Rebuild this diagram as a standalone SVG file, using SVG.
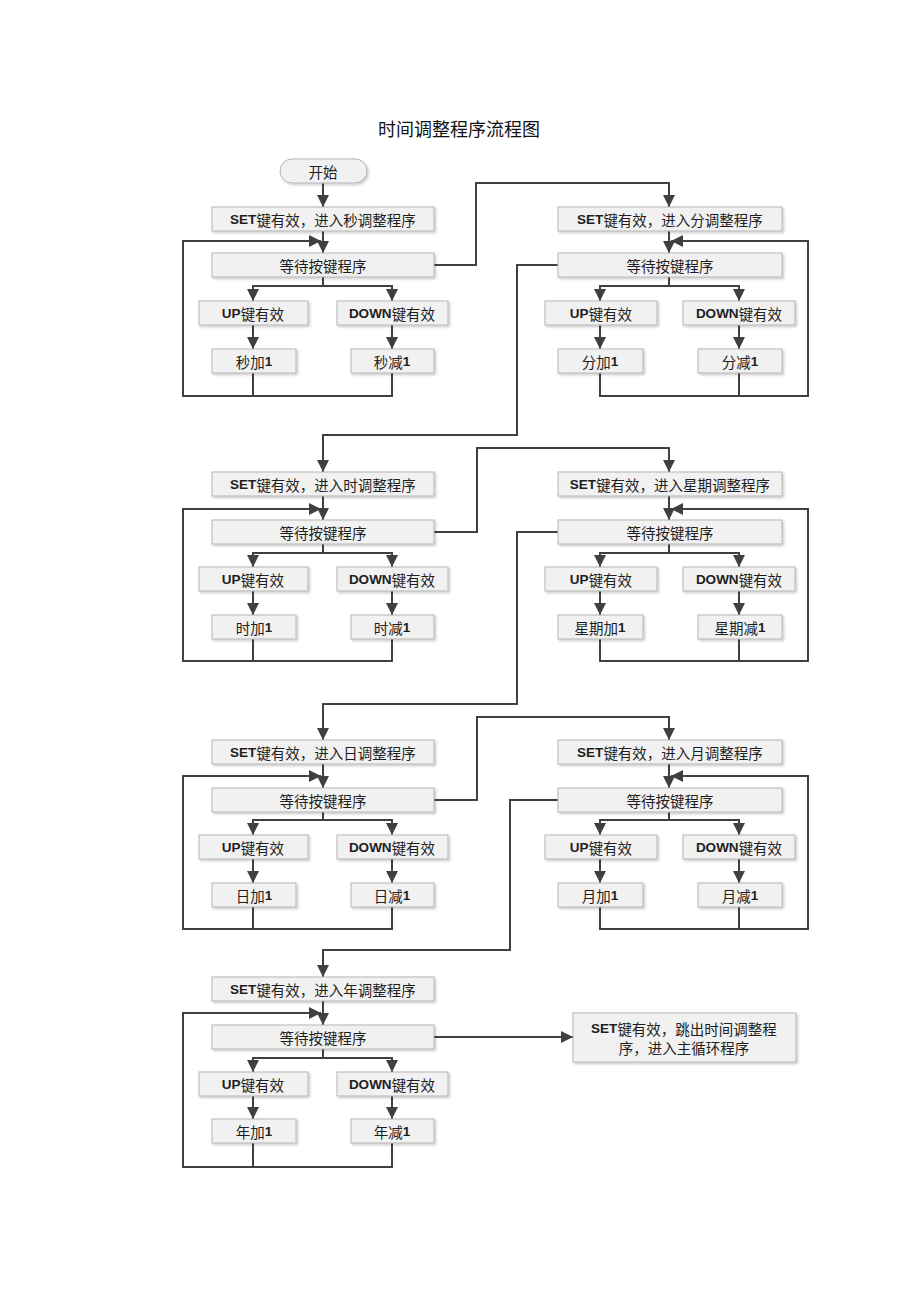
<svg xmlns="http://www.w3.org/2000/svg" width="920" height="1302" viewBox="0 0 920 1302">
<style>
.box{fill:#f1f1f1;stroke:#b5b5b5;stroke-width:1;filter:url(#ds)}
.t{font-family:"Noto Sans CJK SC","Liberation Sans",sans-serif;font-size:14.5px;fill:#1e1e1e;text-anchor:middle;dominant-baseline:central}
.b{font-weight:bold;font-family:"Liberation Sans","Noto Sans CJK SC",sans-serif;font-size:13.5px}
.title{font-family:"Noto Sans CJK SC",sans-serif;font-size:18px;fill:#111;text-anchor:middle;dominant-baseline:central}
.c{fill:none;stroke:#404040;stroke-width:2}
.a{marker-end:url(#ah)}
</style>
<defs>
<filter id="ds" x="-10%" y="-20%" width="120%" height="150%"><feDropShadow dx="1.5" dy="1.5" stdDeviation="0.8" flood-color="#000" flood-opacity="0.22"/></filter>
<marker id="ah" markerUnits="userSpaceOnUse" markerWidth="13" markerHeight="13" refX="12" refY="6.5" orient="auto"><path d="M0,0.5 L12,6.5 L0,12.5 z" fill="#404040"/></marker>
</defs>
<rect width="920" height="1302" fill="#fff"/>
<text class="title" x="459" y="128">时间调整程序流程图</text>

<g id="connectors">
<!-- row 1 left -->
<path class="c a" d="M323,183 V207"/>
<path class="c a" d="M323,231 V253"/>
<path class="c a" d="M323,277 V286 H253 V301"/>
<path class="c a" d="M323,286 H392 V301"/>
<path class="c a" d="M253,325 V349"/>
<path class="c a" d="M392,325 V349"/>
<path class="c" d="M253,373 V396"/>
<path class="c a" d="M392,373 V396 H183 V241 H321"/>
<path class="c a" d="M434,265 H476 V183 H669 V207"/>
<!-- row 1 right -->
<path class="c a" d="M669,231 V253"/>
<path class="c a" d="M669,277 V286 H600 V301"/>
<path class="c a" d="M669,286 H739 V301"/>
<path class="c a" d="M600,325 V349"/>
<path class="c a" d="M739,325 V349"/>
<path class="c" d="M600,373 V396 H739"/>
<path class="c a" d="M739,373 V396 H808 V241 H671"/>
<path class="c a" d="M558,265 H517 V435 H323 V472"/>
<!-- row 2 left -->
<path class="c a" d="M323,496 V520"/>
<path class="c a" d="M323,544 V553 H253 V567"/>
<path class="c a" d="M323,553 H392 V567"/>
<path class="c a" d="M253,591 V615"/>
<path class="c a" d="M392,591 V615"/>
<path class="c" d="M253,639 V661"/>
<path class="c a" d="M392,639 V661 H183 V509 H321"/>
<path class="c a" d="M434,532 H477 V448 H669 V472"/>
<!-- row 2 right -->
<path class="c a" d="M669,496 V520"/>
<path class="c a" d="M669,544 V553 H600 V567"/>
<path class="c a" d="M669,553 H739 V567"/>
<path class="c a" d="M600,591 V615"/>
<path class="c a" d="M739,591 V615"/>
<path class="c" d="M600,639 V661 H739"/>
<path class="c a" d="M739,639 V661 H808 V509 H671"/>
<path class="c a" d="M558,532 H517 V704 H323 V740"/>
<!-- row 3 left -->
<path class="c a" d="M323,764 V788"/>
<path class="c a" d="M323,812 V820 H253 V835"/>
<path class="c a" d="M323,820 H392 V835"/>
<path class="c a" d="M253,859 V883"/>
<path class="c a" d="M392,859 V883"/>
<path class="c" d="M253,907 V929"/>
<path class="c a" d="M392,907 V929 H183 V776 H321"/>
<path class="c a" d="M434,800 H477 V717 H669 V740"/>
<!-- row 3 right -->
<path class="c a" d="M669,764 V788"/>
<path class="c a" d="M669,812 V820 H600 V835"/>
<path class="c a" d="M669,820 H739 V835"/>
<path class="c a" d="M600,859 V883"/>
<path class="c a" d="M739,859 V883"/>
<path class="c" d="M600,907 V929 H739"/>
<path class="c a" d="M739,907 V929 H808 V776 H671"/>
<path class="c a" d="M558,800 H510 V950 H323 V977"/>
<!-- row 4 -->
<path class="c a" d="M323,1001 V1025"/>
<path class="c a" d="M323,1049 V1058 H253 V1072"/>
<path class="c a" d="M323,1058 H392 V1072"/>
<path class="c a" d="M253,1096 V1119"/>
<path class="c a" d="M392,1096 V1119"/>
<path class="c" d="M253,1143 V1167"/>
<path class="c a" d="M392,1143 V1167 H183 V1013 H321"/>
<path class="c a" d="M434,1037 H573"/>
</g>

<g id="start"><rect class="box" x="280" y="159" width="87" height="24" rx="12"/><text class="t" x="323" y="171">开始</text></g>

<!-- Row 1 left: seconds -->
<g id="set-sec"><rect class="box" x="212" y="207" width="222" height="24"/><text class="t" x="323" y="219"><tspan class="b">SET</tspan>键有效，进入秒调整程序</text></g>
<g id="wait-sec"><rect class="box" x="212" y="253" width="222" height="24"/><text class="t" x="323" y="265">等待按键程序</text></g>
<g id="up-sec"><rect class="box" x="199" y="301" width="109" height="24"/><text class="t" x="253" y="313"><tspan class="b">UP</tspan>键有效</text></g>
<g id="down-sec"><rect class="box" x="337" y="301" width="111" height="24"/><text class="t" x="392" y="313"><tspan class="b">DOWN</tspan>键有效</text></g>
<g id="inc-sec"><rect class="box" x="212" y="349" width="84" height="24"/><text class="t" x="254" y="361">秒加<tspan class="b">1</tspan></text></g>
<g id="dec-sec"><rect class="box" x="351" y="349" width="83" height="24"/><text class="t" x="392" y="361">秒减<tspan class="b">1</tspan></text></g>

<!-- Row 1 right: minutes -->
<g id="set-min"><rect class="box" x="558" y="207" width="224" height="24"/><text class="t" x="670" y="219"><tspan class="b">SET</tspan>键有效，进入分调整程序</text></g>
<g id="wait-min"><rect class="box" x="558" y="253" width="224" height="24"/><text class="t" x="670" y="265">等待按键程序</text></g>
<g id="up-min"><rect class="box" x="545" y="301" width="112" height="24"/><text class="t" x="601" y="313"><tspan class="b">UP</tspan>键有效</text></g>
<g id="down-min"><rect class="box" x="683" y="301" width="112" height="24"/><text class="t" x="739" y="313"><tspan class="b">DOWN</tspan>键有效</text></g>
<g id="inc-min"><rect class="box" x="558" y="349" width="85" height="24"/><text class="t" x="600" y="361">分加<tspan class="b">1</tspan></text></g>
<g id="dec-min"><rect class="box" x="698" y="349" width="84" height="24"/><text class="t" x="740" y="361">分减<tspan class="b">1</tspan></text></g>

<!-- Row 2 left: hours -->
<g id="set-hour"><rect class="box" x="212" y="472" width="222" height="24"/><text class="t" x="323" y="484"><tspan class="b">SET</tspan>键有效，进入时调整程序</text></g>
<g id="wait-hour"><rect class="box" x="212" y="520" width="222" height="24"/><text class="t" x="323" y="532">等待按键程序</text></g>
<g id="up-hour"><rect class="box" x="199" y="567" width="109" height="24"/><text class="t" x="253" y="579"><tspan class="b">UP</tspan>键有效</text></g>
<g id="down-hour"><rect class="box" x="337" y="567" width="111" height="24"/><text class="t" x="392" y="579"><tspan class="b">DOWN</tspan>键有效</text></g>
<g id="inc-hour"><rect class="box" x="212" y="615" width="84" height="24"/><text class="t" x="254" y="627">时加<tspan class="b">1</tspan></text></g>
<g id="dec-hour"><rect class="box" x="351" y="615" width="83" height="24"/><text class="t" x="392" y="627">时减<tspan class="b">1</tspan></text></g>

<!-- Row 2 right: weekday -->
<g id="set-week"><rect class="box" x="558" y="472" width="224" height="24"/><text class="t" x="670" y="484"><tspan class="b">SET</tspan>键有效，进入星期调整程序</text></g>
<g id="wait-week"><rect class="box" x="558" y="520" width="224" height="24"/><text class="t" x="670" y="532">等待按键程序</text></g>
<g id="up-week"><rect class="box" x="545" y="567" width="112" height="24"/><text class="t" x="601" y="579"><tspan class="b">UP</tspan>键有效</text></g>
<g id="down-week"><rect class="box" x="683" y="567" width="112" height="24"/><text class="t" x="739" y="579"><tspan class="b">DOWN</tspan>键有效</text></g>
<g id="inc-week"><rect class="box" x="558" y="615" width="85" height="24"/><text class="t" x="600" y="627">星期加<tspan class="b">1</tspan></text></g>
<g id="dec-week"><rect class="box" x="698" y="615" width="84" height="24"/><text class="t" x="740" y="627">星期减<tspan class="b">1</tspan></text></g>

<!-- Row 3 left: day -->
<g id="set-day"><rect class="box" x="212" y="740" width="222" height="24"/><text class="t" x="323" y="752"><tspan class="b">SET</tspan>键有效，进入日调整程序</text></g>
<g id="wait-day"><rect class="box" x="212" y="788" width="222" height="24"/><text class="t" x="323" y="800">等待按键程序</text></g>
<g id="up-day"><rect class="box" x="199" y="835" width="109" height="24"/><text class="t" x="253" y="847"><tspan class="b">UP</tspan>键有效</text></g>
<g id="down-day"><rect class="box" x="337" y="835" width="111" height="24"/><text class="t" x="392" y="847"><tspan class="b">DOWN</tspan>键有效</text></g>
<g id="inc-day"><rect class="box" x="212" y="883" width="84" height="24"/><text class="t" x="254" y="895">日加<tspan class="b">1</tspan></text></g>
<g id="dec-day"><rect class="box" x="351" y="883" width="83" height="24"/><text class="t" x="392" y="895">日减<tspan class="b">1</tspan></text></g>

<!-- Row 3 right: month -->
<g id="set-month"><rect class="box" x="558" y="740" width="224" height="24"/><text class="t" x="670" y="752"><tspan class="b">SET</tspan>键有效，进入月调整程序</text></g>
<g id="wait-month"><rect class="box" x="558" y="788" width="224" height="24"/><text class="t" x="670" y="800">等待按键程序</text></g>
<g id="up-month"><rect class="box" x="545" y="835" width="112" height="24"/><text class="t" x="601" y="847"><tspan class="b">UP</tspan>键有效</text></g>
<g id="down-month"><rect class="box" x="683" y="835" width="112" height="24"/><text class="t" x="739" y="847"><tspan class="b">DOWN</tspan>键有效</text></g>
<g id="inc-month"><rect class="box" x="558" y="883" width="85" height="24"/><text class="t" x="600" y="895">月加<tspan class="b">1</tspan></text></g>
<g id="dec-month"><rect class="box" x="698" y="883" width="84" height="24"/><text class="t" x="740" y="895">月减<tspan class="b">1</tspan></text></g>

<!-- Row 4: year -->
<g id="set-year"><rect class="box" x="212" y="977" width="222" height="24"/><text class="t" x="323" y="989"><tspan class="b">SET</tspan>键有效，进入年调整程序</text></g>
<g id="wait-year"><rect class="box" x="212" y="1025" width="222" height="24"/><text class="t" x="323" y="1037">等待按键程序</text></g>
<g id="up-year"><rect class="box" x="199" y="1072" width="109" height="24"/><text class="t" x="253" y="1084"><tspan class="b">UP</tspan>键有效</text></g>
<g id="down-year"><rect class="box" x="337" y="1072" width="111" height="24"/><text class="t" x="392" y="1084"><tspan class="b">DOWN</tspan>键有效</text></g>
<g id="inc-year"><rect class="box" x="212" y="1119" width="84" height="24"/><text class="t" x="254" y="1131">年加<tspan class="b">1</tspan></text></g>
<g id="dec-year"><rect class="box" x="351" y="1119" width="83" height="24"/><text class="t" x="392" y="1131">年减<tspan class="b">1</tspan></text></g>

<g id="exit"><rect class="box" x="573" y="1013" width="223" height="49"/><text class="t" x="684" y="1028"><tspan class="b">SET</tspan>键有效，跳出时间调整程</text><text class="t" x="684" y="1047">序，进入主循环程序</text></g>
</svg>
